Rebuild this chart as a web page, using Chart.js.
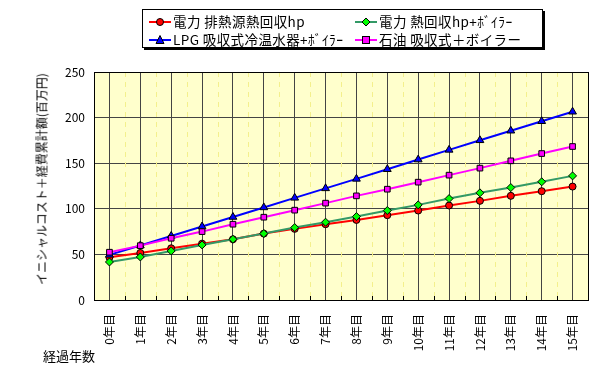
<!DOCTYPE html>
<html>
<head>
<meta charset="utf-8">
<script src="https://cdn.jsdelivr.net/npm/chart.js@4"></script>
<style>
  body { margin: 0; background: #fff; }
  #wrap { position: relative; width: 604px; height: 372px; font-family: "Noto Sans CJK JP", sans-serif; }
  #legend { position: absolute; left: 142px; top: 9px; width: 399px; height: 37px; border: 1px solid #000; box-shadow: 2px 2px 0 #000; background: #fff; }
  .item { position: absolute; height: 16px; font-size: 13.5px; letter-spacing: 0.4px; line-height: 16px; white-space: nowrap; color: #000; }
  .item svg { position: absolute; left: 0; top: 4px; }
  .item span { position: absolute; left: 24px; top: 0; }
  #ytitle { position: absolute; left: 41px; top: 179px; transform: translate(-50%, -50%) rotate(-90deg); font-size: 12px; white-space: nowrap; }
  #xtitle { position: absolute; left: 43px; top: 346px; font-size: 13px; white-space: nowrap; }
</style>
</head>
<body>
<div id="wrap">
  <canvas id="chart" width="604" height="372"></canvas>
  <div id="legend"></div>
  <div id="ytitle">イニシャルコスト＋経費累計額(百万円)</div>
  <div id="xtitle">経過年数</div>
</div>
<script>
const years = ['0年目', '1年目', '2年目', '3年目', '4年目', '5年目', '6年目', '7年目',
  '8年目', '9年目', '10年目', '11年目', '12年目', '13年目', '14年目', '15年目'];

const seriesNames = ['電力 排熱源熱回収hp', '電力 熱回収hp+ﾎﾞｲﾗｰ', 'LPG 吸収式冷温水器+ﾎﾞｲﾗｰ', '石油 吸収式＋ボイラー'];

const denryokuHp = [46.8, 51.6, 56.7, 61.8, 66.6, 72.8, 78.0, 83.1, 87.8, 93.0, 98.1, 103.6, 108.7, 114.2, 119.3, 124.4];
const denryokuBoiler = [41.7, 47.2, 53.8, 60.4, 66.6, 72.8, 79.4, 85.3, 91.5, 98.1, 104.3, 111.2, 117.5, 123.3, 129.6, 136.1];
const lpgBoiler = [49.5, 59.8, 70.2, 80.6, 91.0, 101.5, 112.0, 122.4, 132.8, 143.4, 154.0, 164.6, 175.1, 185.6, 196.0, 206.4];
const sekiyuBoiler = [52.4, 59.6, 67.7, 75.0, 83.1, 90.8, 98.5, 106.2, 114.2, 121.5, 129.2, 136.9, 144.6, 152.6, 160.6, 168.3];

const yTicks = [0, 50, 100, 150, 200, 250];

// line colour, marker fill, marker shape
const styles = [
  { line: '#FF0000', fill: '#FF0000', shape: 'circle', r: 3.5 },
  { line: '#339966', fill: '#00FF00', shape: 'rectRot', r: 4 },
  { line: '#0000FF', fill: '#0000FF', shape: 'triangle', r: 4.5 },
  { line: '#FF00FF', fill: '#FF00FF', shape: 'rect', r: 4 }
];
const allData = [denryokuHp, denryokuBoiler, lpgBoiler, sekiyuBoiler];

// background, dashed boundary lines, ticks and border of the plot area
const plotDeco = {
  id: 'plotDeco',
  beforeDraw(chart) {
    const a = chart.chartArea, c = chart.ctx;
    c.save();
    c.fillStyle = '#FFFFCC';
    c.fillRect(a.left, a.top, a.right - a.left, a.bottom - a.top);
    c.restore();
  },
  beforeDatasetsDraw(chart) {
    const a = chart.chartArea, c = chart.ctx, x = chart.scales.x;
    const step = x.getPixelForValue(1) - x.getPixelForValue(0);
    c.save();
    c.lineWidth = 1;
    for (let i = 1; i < years.length; i++) {
      const px = Math.round(x.getPixelForValue(i) - step / 2) + 0.5;
      c.strokeStyle = '#F4F08C';
      c.setLineDash([5, 5]);
      c.beginPath(); c.moveTo(px, a.top); c.lineTo(px, a.bottom - 4); c.stroke();
      c.strokeStyle = '#000';
      c.setLineDash([]);
      c.beginPath(); c.moveTo(px, a.bottom - 4); c.lineTo(px, a.bottom); c.stroke();
    }
    c.strokeStyle = '#000';
    c.strokeRect(Math.round(a.left) + 0.5, Math.round(a.top) + 0.5, Math.round(a.right - a.left), Math.round(a.bottom - a.top));
    c.restore();
  }
};

const chart = new Chart(document.getElementById('chart').getContext('2d'), {
  type: 'line',
  data: {
    labels: years,
    datasets: allData.map((d, i) => ({
      label: seriesNames[i],
      data: d,
      borderColor: styles[i].line,
      borderWidth: 2,
      backgroundColor: styles[i].fill,
      pointBackgroundColor: styles[i].fill,
      pointBorderColor: '#000',
      pointBorderWidth: 1,
      pointStyle: styles[i].shape,
      pointRadius: styles[i].r,
      order: 4 - i,
      tension: 0
    }))
  },
  options: {
    responsive: false,
    animation: false,
    layout: { padding: { top: 72, right: 16, left: 0, bottom: 0 } },
    plugins: { legend: { display: false }, tooltip: { enabled: false } },
    scales: {
      x: {
        type: 'category',
        offset: true,
        afterFit(s) { s.height = 72; },
        grid: { offset: false, color: '#444', lineWidth: 1, drawTicks: false },
        border: { display: false },
        ticks: {
          autoSkip: false, minRotation: 90, maxRotation: 90, padding: 14,
          color: '#000', font: { family: 'Noto Sans CJK JP', size: 12 }
        }
      },
      y: {
        min: 0, max: 250,
        afterFit(s) { s.width = 94; },
        afterBuildTicks(s) { s.ticks = yTicks.map(v => ({ value: v })); },
        grid: { color: '#444', lineWidth: 1, drawTicks: false },
        border: { display: false },
        ticks: { padding: 9, color: '#000', font: { family: 'Noto Sans CJK JP', size: 12 } }
      }
    }
  },
  plugins: [plotDeco]
});

// legend in two columns, like the original
function symbolSvg(s) {
  let m = '';
  if (s.shape === 'circle') m = '<circle cx="11" cy="5" r="3.5" fill="' + s.fill + '" stroke="#000"/>';
  else if (s.shape === 'rectRot') m = '<polygon points="11,1 15,5 11,9 7,5" fill="' + s.fill + '" stroke="#000"/>';
  else if (s.shape === 'triangle') m = '<polygon points="11,0.5 15,8.5 7,8.5" fill="' + s.fill + '" stroke="#000"/>';
  else m = '<rect x="7.5" y="1.5" width="7" height="7" fill="' + s.fill + '" stroke="#000"/>';
  return '<svg width="22" height="10"><line x1="0" y1="5" x2="22" y2="5" stroke="' + s.line + '" stroke-width="2"/>' + m + '</svg>';
}
const legendPos = [[6, 3], [212, 3], [6, 21], [212, 21]];
const legendEl = document.getElementById('legend');
seriesNames.forEach((name, i) => {
  const d = document.createElement('div');
  d.className = 'item';
  d.style.left = legendPos[i][0] + 'px';
  d.style.top = legendPos[i][1] + 'px';
  d.innerHTML = symbolSvg(styles[i]) + '<span>' + name + '</span>';
  legendEl.appendChild(d);
});
</script>
</body>
</html>
